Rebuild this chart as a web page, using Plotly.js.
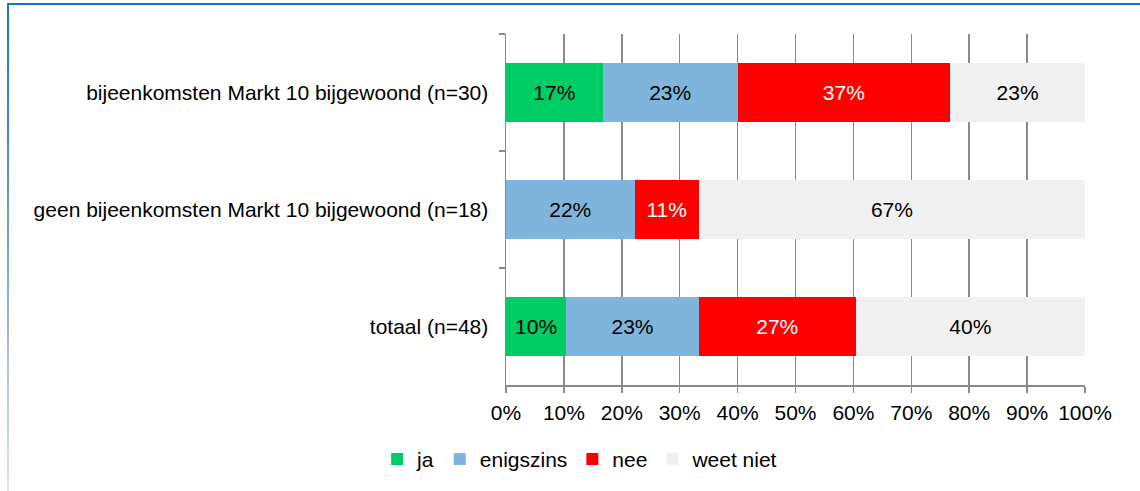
<!DOCTYPE html>
<html>
<head>
<meta charset="utf-8">
<script src="https://cdn.plot.ly/plotly-3.0.1.min.js"></script>
<style>
  html, body { margin: 0; padding: 0; background: #fff; }
  #wrap { position: relative; width: 1140px; height: 491px; overflow: hidden; }
  #chart { position: absolute; left: 0; top: 0; width: 1140px; height: 491px; }
  #btop { position: absolute; left: 7px; top: 3px; width: 1133px; height: 2px; background: #1f72bd; pointer-events: none; }
  #bleft { position: absolute; left: 7px; top: 3px; width: 2px; height: 488px; background: linear-gradient(#1f72bd, #6fa3d8 50%, #dbe6f4); pointer-events: none; }
</style>
</head>
<body>
<div id="wrap">
  <div id="chart"></div>
  <div id="btop"></div>
  <div id="bleft"></div>
</div>
<script>
const categories = [
  "bijeenkomsten Markt 10 bijgewoond (n=30)",
  "geen bijeenkomsten Markt 10 bijgewoond (n=18)",
  "totaal (n=48)"
];
const seriesNames = ["ja", "enigszins", "nee", "weet niet"];
const ja        = [16.7, 0,    10.4];
const enigszins = [23.3, 22.2, 22.9];
const nee       = [36.7, 11.1, 27.1];
const weetNiet  = [23.3, 66.7, 39.6];
const xTickVals = [0, 10, 20, 30, 40, 50, 60, 70, 80, 90, 100];
const xTickText = ["0%", "10%", "20%", "30%", "40%", "50%", "60%", "70%", "80%", "90%", "100%"];

const colors = ["#00cc66", "#7fb5dc", "#ff0000", "#f0f0f0"];
const textColors = ["#000000", "#000000", "#ffffff", "#000000"];
const values = [ja, enigszins, nee, weetNiet];
const FONT = "Liberation Sans, Arial, sans-serif";

const traces = values.map((vals, i) => ({
  type: "bar",
  orientation: "h",
  name: seriesNames[i],
  y: categories,
  x: vals,
  text: vals.map(v => v > 0 ? Math.round(v) + "%" : ""),
  texttemplate: "%{text}",
  textposition: "inside",
  insidetextanchor: "middle",
  textangle: 0,
  constraintext: "none",
  textfont: { family: FONT, size: 21, color: textColors[i] },
  marker: { color: colors[i], line: { width: 0 } },
  hoverinfo: "skip"
}));

const layout = {
  width: 1140,
  height: 491,
  margin: { l: 506, r: 55, t: 34, b: 105, pad: 0 },
  paper_bgcolor: "rgba(0,0,0,0)",
  plot_bgcolor: "rgba(0,0,0,0)",
  barmode: "stack",
  bargap: 0.5,
  font: { family: FONT, size: 21, color: "#000" },
  showlegend: true,
  legend: {
    orientation: "h",
    x: 0.128, xanchor: "center",
    y: -0.15, yanchor: "top",
    traceorder: "normal",
    font: { family: FONT, size: 21, color: "#000" },
    itemwidth: 30,
    bgcolor: "rgba(0,0,0,0)"
  },
  xaxis: {
    range: [0, 100],
    tickvals: xTickVals,
    ticktext: xTickText,
    showgrid: true,
    gridcolor: "#8a8a8a",
    gridwidth: 1.5,
    zeroline: false,
    showline: true,
    linecolor: "#8a8a8a",
    linewidth: 1.5,
    ticks: "outside",
    ticklen: 6,
    tickwidth: 1.5,
    tickcolor: "#8a8a8a",
    tickfont: { family: FONT, size: 21 },
    ticklabelstandoff: 2,
    fixedrange: true
  },
  yaxis: {
    type: "category",
    categoryorder: "array",
    categoryarray: categories,
    autorange: "reversed",
    tickson: "boundaries",
    ticks: "outside",
    ticklen: 6,
    tickwidth: 1.5,
    tickcolor: "#8a8a8a",
    showgrid: false,
    showline: true,
    linecolor: "#8a8a8a",
    linewidth: 1.5,
    tickfont: { family: FONT, size: 21 },
    ticklabelstandoff: 12,
    fixedrange: true
  }
};

Plotly.newPlot("chart", traces, layout, { displayModeBar: false, staticPlot: true });
</script>
</body>
</html>
